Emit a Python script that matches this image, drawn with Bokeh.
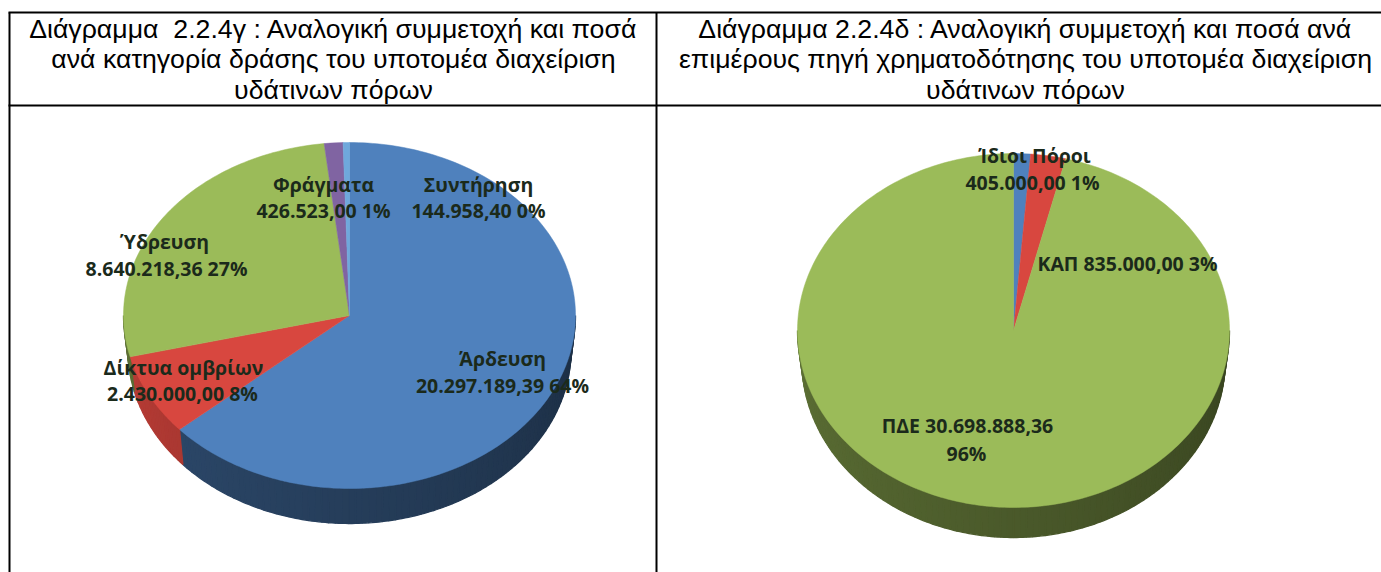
import numpy as np
from bokeh.plotting import figure
from bokeh.embed import file_html
from bokeh.resources import INLINE
from bokeh.core.properties import value

# ---- data ----
left_categories = ["Άρδευση", "Δίκτυα ομβρίων", "Ύδρευση", "Φράγματα", "Συντήρηση"]
left_values = [20297189.39, 2430000.00, 8640218.36, 426523.00, 144958.40]
left_colors = ["#4F81BD", "#D8473F", "#9BBB59", "#8064A2", "#6FA8DC"]
left_side_gain = [1.0, 1.45, 1.0, 1.0, 1.0]
right_categories = ["Ίδιοι Πόροι", "ΚΑΠ", "ΠΔΕ"]
right_values = [405000.00, 835000.00, 30698888.36]
right_colors = ["#4F81BD", "#D8473F", "#9BBB59"]
right_side_gain = [1.0, 1.0, 1.0]
left_title = ["Διάγραμμα\u00a0 2.2.4γ : Αναλογική συμμετοχή και ποσά",
              "ανά κατηγορία δράσης του υποτομέα διαχείριση",
              "υδάτινων πόρων"]
right_title = ["Διάγραμμα 2.2.4δ : Αναλογική συμμετοχή και ποσά ανά",
               "επιμέρους πηγή χρηματοδότησης του υποτομέα διαχείριση",
               "υδάτινων πόρων"]
left_labels = [("Φράγματα", 323, 184), ("426.523,00 1%", 323, 210),
               ("Συντήρηση", 478, 184), ("144.958,40 0%", 478, 210),
               ("Ύδρευση", 164, 241), ("8.640.218,36 27%", 166, 268),
               ("Δίκτυα ομβρίων", 183, 367), ("2.430.000,00 8%", 182, 393),
               ("Άρδευση", 502, 358), ("20.297.189,39 64%", 502, 385)]
right_labels = [("Ίδιοι Πόροι", 1034, 155), ("405.000,00 1%", 1032, 182),
                ("ΚΑΠ 835.000,00 3%", 1127, 263),
                ("ΠΔΕ 30.698.888,36", 967, 425), ("96%", 966, 453)]

W, H = 1381, 572


def shade(hex_color, f):
    r, g, b = (int(hex_color[i:i + 2], 16) for i in (1, 3, 5))
    return "#%02x%02x%02x" % (min(255, int(r * f)), min(255, int(g * f)), min(255, int(b * f)))


p = figure(width=W, height=H, x_range=(0, W), y_range=(H, 0),
           output_backend="svg", toolbar_location=None,
           min_border=0, outline_line_color=None, background_fill_color="white")
p.axis.visible = False
p.grid.visible = False


def pie3d(vals, cols, gains, cx, cy, rx, ry, depth, shrink=0.98):
    v = np.array(vals, float)
    edges = np.concatenate([[0], np.cumsum(v) / v.sum()]) * 2 * np.pi
    for i, c in enumerate(cols):
        lo, hi = max(edges[i], np.pi / 2), min(edges[i + 1], 3 * np.pi / 2)
        if hi <= lo:
            continue
        n = max(2, int((hi - lo) / 0.03))
        t = np.linspace(lo, hi, n + 1)
        for j in range(n):
            s = np.linspace(t[j], t[j + 1], 3)
            tm = (t[j] + t[j + 1]) / 2
            xs = cx + rx * np.sin(s)
            ys = cy - ry * np.cos(s)
            xb = cx + rx * shrink * np.sin(s)
            yb = cy + depth - ry * np.cos(s)
            # darkest at the lower right, lighter towards the left end
            f = (0.36 + 0.24 * (tm - np.pi / 2) / np.pi) * gains[i]
            col = shade(c, f)
            p.patch(np.r_[xs, xb[::-1]], np.r_[ys, yb[::-1]],
                    fill_color=col, line_color=col, line_width=1.3)
    for i, c in enumerate(cols):
        s = np.linspace(edges[i], edges[i + 1], max(3, int((edges[i + 1] - edges[i]) / 0.02)))
        xs = np.r_[cx, cx + rx * np.sin(s)]
        ys = np.r_[cy, cy - ry * np.cos(s)]
        p.patch(xs, ys, fill_color=c, line_color=c, line_width=0.5)


pie3d(left_values, left_colors, left_side_gain, 349, 315, 226, 173, 35)
pie3d(right_values, right_colors, right_side_gain, 1013, 330, 216, 177, 30)

# table rules
rule = dict(line_color="black", line_width=2)
p.segment([8, 8], [12, 105], [W, W], [12, 105], **rule)
p.segment([9, 656], [12, 12], [9, 656], [H, H], **rule)


def texts(rows, size, font, style, color="black"):
    p.text([r[1] for r in rows], [r[2] for r in rows], text=[r[0] for r in rows],
           text_align="center", text_baseline="middle", text_font_size=size,
           text_font=value(font), text_font_style=style, text_color=color)


xl, xr = 333, 1025
title_y = [28, 58.5, 89]
texts([(t, xl, y) for t, y in zip(left_title, title_y)], "26.7px", "Liberation Sans", "normal")
texts([(t, xr, y) for t, y in zip(right_title, title_y)], "26.7px", "Liberation Sans", "normal")
texts(left_labels, "19.5px", "Open Sans", "bold", "#1b2a1b")
texts(right_labels, "19.5px", "Open Sans", "bold", "#1b2a1b")

open("out.html", "w").write(file_html(p, INLINE))
